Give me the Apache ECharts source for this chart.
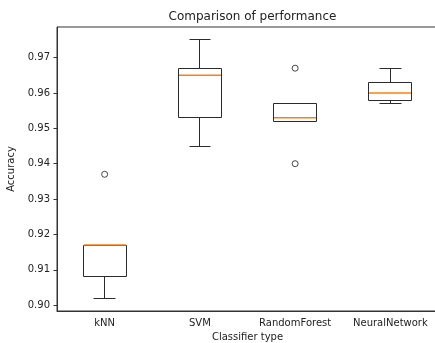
<!DOCTYPE html>
<html>
<head>
<meta charset="utf-8">
<script src="https://cdn.jsdelivr.net/npm/echarts@6/dist/echarts.min.js"></script>
<style>
  html, body { margin: 0; padding: 0; background: #fff; }
  #chart { width: 435px; height: 343px; }
</style>
</head>
<body>
<div id="chart"></div>
<script>
const CLASSIFIERS = ["kNN", "SVM", "RandomForest", "NeuralNetwork"];
// each box: [whisker low, Q1, median, Q3, whisker high]
const KNN = [0.902, 0.908, 0.917, 0.917, 0.917];
const SVM = [0.945, 0.953, 0.965, 0.967, 0.975];
const RANDOM_FOREST = [0.952, 0.952, 0.953, 0.957, 0.957];
const NEURAL_NETWORK = [0.957, 0.958, 0.960, 0.963, 0.967];
const OUTLIERS = [[0, 0.937], [2, 0.967], [2, 0.940]];
const Y_TICKS = [0.90, 0.91, 0.92, 0.93, 0.94, 0.95, 0.96, 0.97];
const Y_MIN = 0.89835;
const Y_MAX = 0.97865;

const TEXT = "#222";
const LINE = "#333";
const BOX = "#2b2b2b";
const MEDIAN = "#ff7f0e";
const FONT = "DejaVu Sans";

const boxes = [KNN, SVM, RANDOM_FOREST, NEURAL_NETWORK].map((b, i) => [i, ...b]);

const crisp = (v) => Math.round(v - 0.5) + 0.5;

function renderBox(params, api) {
  const i = api.value(0);
  const band = api.size([1, 0])[0];
  const half = band * 0.225;
  const capHalf = band * 0.1125;
  const at = (k) => api.coord([i, api.value(k)]);
  const [cx, yLo] = at(1);
  const yQ1 = at(2)[1];
  const yMed = at(3)[1];
  const yQ3 = at(4)[1];
  const yHi = at(5)[1];
  const x0 = crisp(cx - half), x1 = crisp(cx + half), xc = crisp(cx);
  const line = (xa, ya, xb, yb) => ({
    type: "line",
    shape: { x1: xa, y1: crisp(ya), x2: xb, y2: crisp(yb) },
    style: { stroke: BOX, lineWidth: 1, fill: null },
  });
  return {
    type: "group",
    children: [
      line(xc, yQ1, xc, yLo),
      line(xc, yQ3, xc, yHi),
      line(crisp(cx - capHalf), yLo, crisp(cx + capHalf), yLo),
      line(crisp(cx - capHalf), yHi, crisp(cx + capHalf), yHi),
      {
        type: "rect",
        shape: { x: x0, y: crisp(yQ3), width: x1 - x0, height: crisp(yQ1) - crisp(yQ3) },
        style: { stroke: BOX, lineWidth: 1, fill: null },
      },
      {
        type: "line",
        z2: 10,
        shape: { x1: x0 + 0.5, y1: yMed, x2: x1 - 0.5, y2: yMed },
        style: { stroke: MEDIAN, lineWidth: 1.5, fill: null },
      },
    ],
  };
}

const chart = echarts.init(document.getElementById("chart"), null, { renderer: "canvas" });
chart.setOption({
  animation: false,
  backgroundColor: "#fff",
  textStyle: { fontFamily: FONT },
  title: {
    text: "Comparison of performance",
    left: 247.5,
    textAlign: "center",
    top: 6,
    textStyle: { fontFamily: FONT, fontSize: 12, fontWeight: "normal", color: TEXT },
  },
  grid: {
    left: 57, top: 27, width: 381, height: 284,
    outerBoundsMode: "none",
    containLabel: false,
    show: true, borderColor: LINE, borderWidth: 1, backgroundColor: "transparent",
  },
  xAxis: {
    type: "category",
    data: CLASSIFIERS,
    name: "Classifier type",
    nameLocation: "middle",
    nameGap: 20,
    nameTextStyle: { fontFamily: FONT, fontSize: 10, color: TEXT },
    axisLine: { lineStyle: { color: LINE, width: 1 } },
    axisTick: { alignWithLabel: true, length: 3.5, lineStyle: { color: LINE } },
    axisLabel: { interval: 0, hideOverlap: false, fontFamily: FONT, fontSize: 10, color: TEXT, margin: 7 },
    splitLine: { show: false },
  },
  yAxis: {
    type: "value",
    min: Y_MIN,
    max: Y_MAX,
    name: "Accuracy",
    nameLocation: "middle",
    nameGap: 36,
    nameTextStyle: { fontFamily: FONT, fontSize: 10, color: TEXT },
    axisLine: { show: true, lineStyle: { color: LINE, width: 1 } },
    axisTick: { show: true, length: 3.5, lineStyle: { color: LINE }, customValues: Y_TICKS },
    axisLabel: {
      fontFamily: FONT, fontSize: 10, color: TEXT, margin: 7,
      customValues: Y_TICKS,
      formatter: (v) => v.toFixed(2),
    },
    splitLine: { show: false },
  },
  series: [
    {
      type: "custom",
      data: boxes,
      encode: { x: 0, y: [1, 2, 3, 4, 5] },
      renderItem: renderBox,
      silent: true,
    },
    {
      type: "scatter",
      data: OUTLIERS,
      symbol: "circle",
      symbolSize: 6,
      itemStyle: { color: "rgba(0,0,0,0)", borderColor: "#1a1a1a", borderWidth: 1 },
      silent: true,
    },
  ],
});
</script>
</body>
</html>
